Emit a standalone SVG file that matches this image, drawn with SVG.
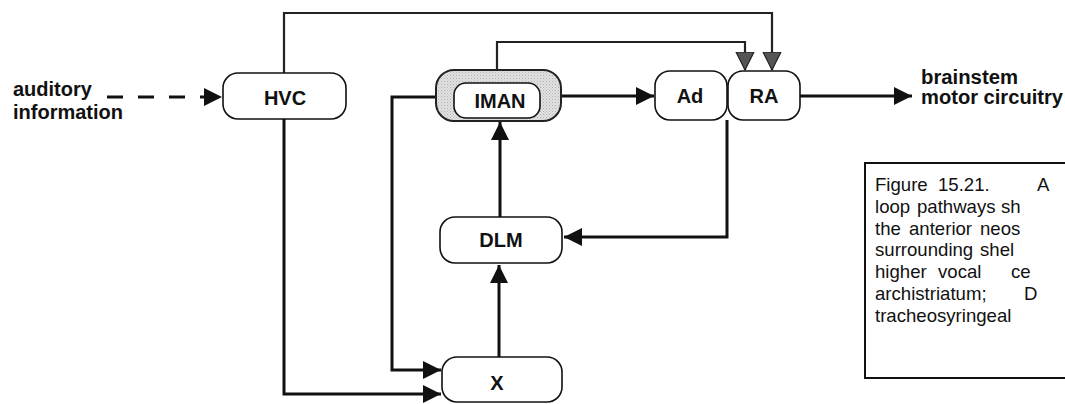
<svg xmlns="http://www.w3.org/2000/svg" width="1065" height="404" viewBox="0 0 1065 404">
  <style>
    .node { fill: #fff; stroke: #111; stroke-width: 1.6; }
    .lbl { font-family: "Liberation Sans", Arial, sans-serif; font-weight: bold; font-size: 20px; fill: #111; text-anchor: middle; }
    .side { font-family: "Liberation Sans", Arial, sans-serif; font-weight: bold; font-size: 20px; fill: #111; }
    .wire { fill: none; stroke: #111; stroke-width: 3; }
    .thin { fill: none; stroke: #222; stroke-width: 2.2; }
    .cap { font-family: "Liberation Sans", Arial, sans-serif; font-size: 18.6px; fill: #111; }
  </style>
  <defs>
    <marker id="arrow" viewBox="0 0 10 10" refX="10" refY="5" markerWidth="6" markerHeight="6" markerUnits="strokeWidth" orient="auto">
      <path d="M0,0 L10,5 L0,10 Z" fill="#111"/>
    </marker>
    <marker id="arrowGrey" viewBox="0 0 10 10" refX="9" refY="5" markerWidth="9" markerHeight="9" markerUnits="strokeWidth" orient="auto">
      <path d="M0,0.5 L9,5 L0,9.5 Z" fill="#555" stroke="#222" stroke-width="0.6"/>
    </marker>
    <pattern id="stipple" width="3" height="3" patternUnits="userSpaceOnUse">
      <rect width="3" height="3" fill="#e2e2e2"/>
      <rect x="0" y="0" width="1" height="1" fill="#b0b0b0"/>
      <rect x="1.5" y="1.5" width="1" height="1" fill="#bcbcbc"/>
    </pattern>
  </defs>

  <rect width="1065" height="404" fill="#fff"/>

  <!-- connectors -->
  <g id="connectors">
    <!-- auditory input, dashed -->
    <path class="wire" d="M107,97 H222" stroke-dasharray="16,15" marker-end="url(#arrow)"/>
    <!-- HVC to RA, over the top -->
    <path class="thin" d="M284,73 V13 H772 V70" marker-end="url(#arrowGrey)"/>
    <!-- IMAN to RA -->
    <path class="thin" d="M497,83 V42 H745 V70" marker-end="url(#arrowGrey)"/>
    <!-- IMAN to Ad -->
    <path class="wire" d="M561,96 H654" marker-end="url(#arrow)"/>
    <!-- RA to brainstem -->
    <path class="wire" d="M800,96 H912" marker-end="url(#arrow)"/>
    <!-- RA / Ad down to DLM -->
    <path class="wire" d="M727,120 V237 H564" marker-end="url(#arrow)"/>
    <!-- DLM to IMAN -->
    <path class="wire" d="M500,217 V122" marker-end="url(#arrow)"/>
    <!-- X to DLM -->
    <path class="wire" d="M499,357 V265" marker-end="url(#arrow)"/>
    <!-- IMAN to X -->
    <path class="wire" d="M436,97 H392 V370 H441" marker-end="url(#arrow)"/>
    <!-- HVC to X -->
    <path class="wire" d="M284,119 V394 H441" marker-end="url(#arrow)"/>
  </g>

  <!-- side labels -->
  <g id="input-label">
    <text class="side" x="13" y="96">auditory</text>
    <text class="side" x="13" y="119">information</text>
  </g>
  <g id="output-label">
    <text class="side" font-size="14">
      <tspan x="921" y="84" textLength="97" lengthAdjust="spacingAndGlyphs">brainstem</tspan>
      <tspan x="921" y="104" textLength="142" lengthAdjust="spacingAndGlyphs">motor circuitry</tspan>
    </text>
  </g>

  <g id="HVC">
    <rect class="node" x="223" y="73" width="123" height="46" rx="15"/>
    <text class="lbl" x="285" y="105">HVC</text>
  </g>

  <g id="IMAN">
    <rect x="436" y="70" width="125" height="51" rx="18" fill="url(#stipple)" stroke="#222" stroke-width="2"/>
    <rect class="node" x="454" y="83" width="86" height="35" rx="12"/>
    <text class="lbl" x="500" y="108">IMAN</text>
  </g>

  <g id="Ad">
    <rect class="node" x="655" y="71" width="72" height="49" rx="15"/>
    <text class="lbl" x="690" y="103">Ad</text>
  </g>

  <g id="RA">
    <rect class="node" x="728" y="71" width="72" height="49" rx="15"/>
    <text class="lbl" x="764" y="103">RA</text>
  </g>

  <g id="DLM">
    <rect class="node" x="440" y="217" width="122" height="46" rx="15"/>
    <text class="lbl" x="501" y="247">DLM</text>
  </g>

  <g id="X">
    <rect class="node" x="442" y="357" width="120" height="45" rx="15"/>
    <text class="lbl" x="497" y="390">X</text>
  </g>

  <g id="caption">
    <rect x="865" y="163" width="210" height="215" fill="#fff" stroke="#111" stroke-width="2"/>
    <text class="cap" y="191"><tspan x="875">Figure</tspan><tspan x="938">15.21.</tspan><tspan x="1037">A</tspan></text>
    <text class="cap" y="213"><tspan x="875">loop</tspan><tspan x="917">pathways</tspan><tspan x="1001">sh</tspan></text>
    <text class="cap" y="235"><tspan x="875">the</tspan><tspan x="909">anterior</tspan><tspan x="980">neos</tspan></text>
    <text class="cap" y="256"><tspan x="875">surrounding</tspan><tspan x="980">shel</tspan></text>
    <text class="cap" y="278"><tspan x="875">higher</tspan><tspan x="938">vocal</tspan><tspan x="1011">ce</tspan></text>
    <text class="cap" y="300"><tspan x="875">archistriatum;</tspan><tspan x="1024">D</tspan></text>
    <text class="cap" y="322"><tspan x="875">tracheosyringeal</tspan></text>
  </g>
</svg>
